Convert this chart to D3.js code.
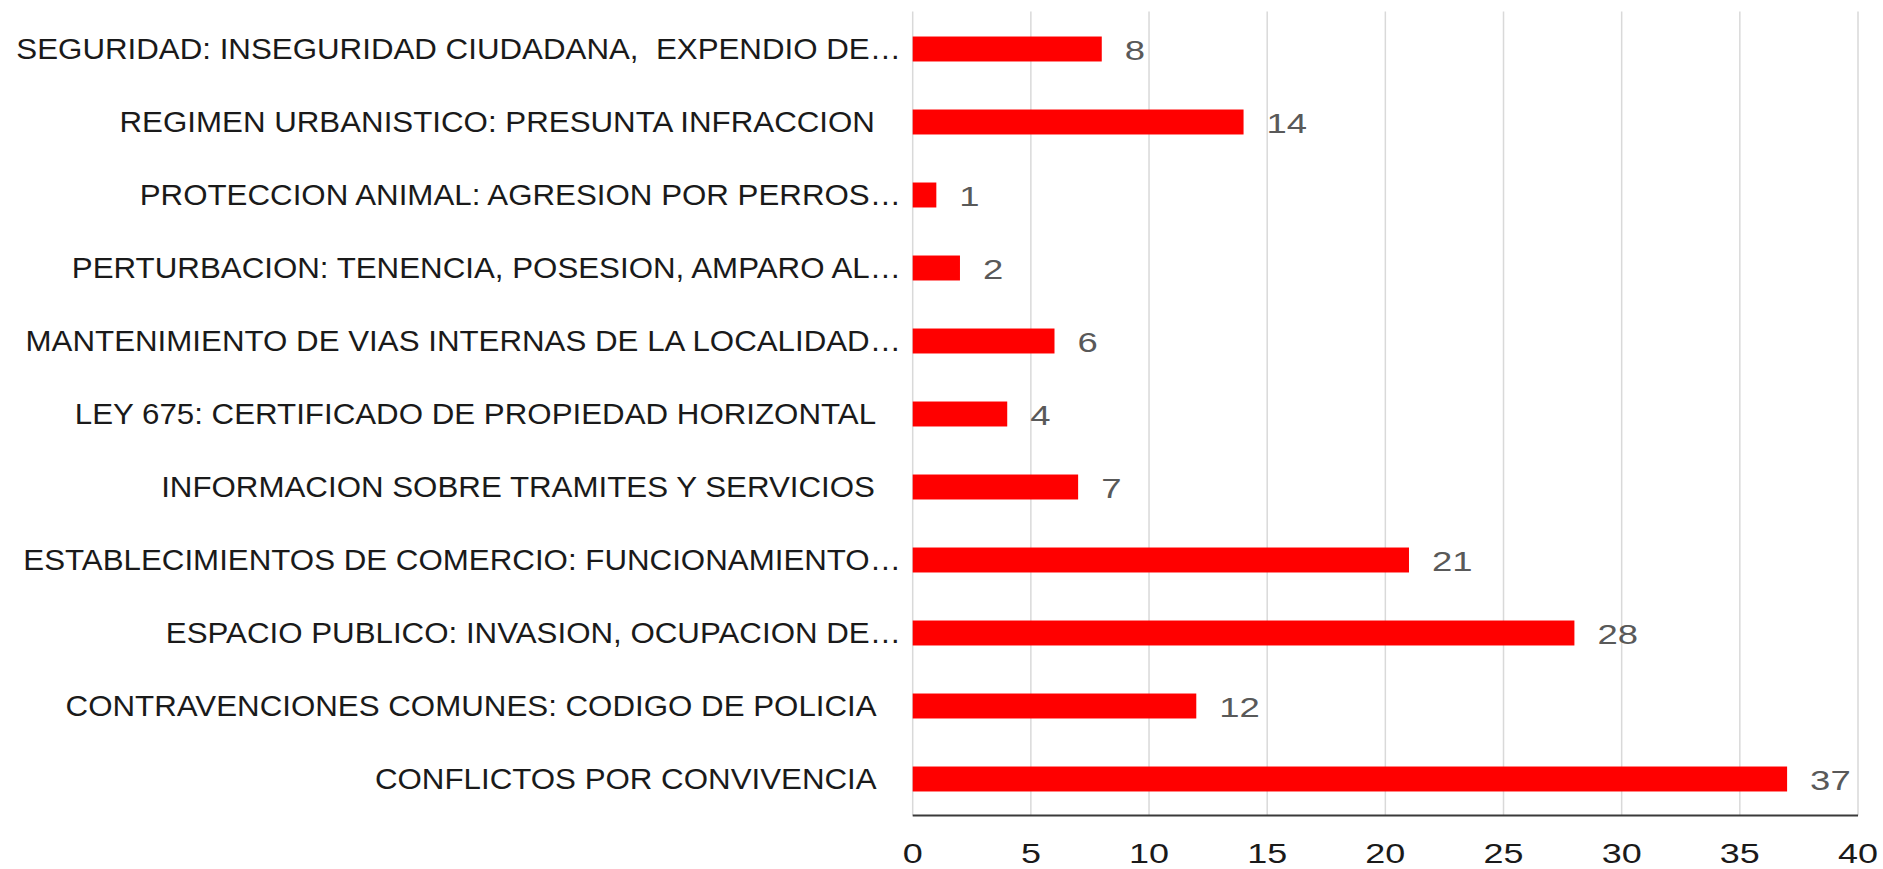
<!DOCTYPE html>
<html>
<head>
<meta charset="utf-8">
<script src="https://cdn.jsdelivr.net/npm/d3@7"></script>
<style>
  html, body { margin: 0; padding: 0; background: #fff; }
  svg { display: block; }
  text { white-space: pre; }
</style>
</head>
<body>
<script>
const categories = [
  "SEGURIDAD: INSEGURIDAD CIUDADANA,  EXPENDIO DE\u2026",
  "REGIMEN URBANISTICO: PRESUNTA INFRACCION   ",
  "PROTECCION ANIMAL: AGRESION POR PERROS\u2026",
  "PERTURBACION: TENENCIA, POSESION, AMPARO AL\u2026",
  "MANTENIMIENTO DE VIAS INTERNAS DE LA LOCALIDAD\u2026",
  "LEY 675: CERTIFICADO DE PROPIEDAD HORIZONTAL   ",
  "INFORMACION SOBRE TRAMITES Y SERVICIOS   ",
  "ESTABLECIMIENTOS DE COMERCIO: FUNCIONAMIENTO\u2026",
  "ESPACIO PUBLICO: INVASION, OCUPACION DE\u2026",
  "CONTRAVENCIONES COMUNES: CODIGO DE POLICIA   ",
  "CONFLICTOS POR CONVIVENCIA   "
];
const values = [8, 14, 1, 2, 6, 4, 7, 21, 28, 12, 37];
const tickValues = [0, 5, 10, 15, 20, 25, 30, 35, 40];

const W = 1883, H = 869;
const plot = { left: 912.7, right: 1858, top: 12.5, bottom: 815.5 };
const FONT = "'Liberation Sans', Arial, sans-serif";
const numScale = 1.28;

const svg = d3.select("body").append("svg")
  .attr("width", W).attr("height", H);

const x = d3.scaleLinear().domain([0, 40]).range([plot.left, plot.right]);
const y = d3.scaleBand().domain(categories)
  .range([plot.top, plot.bottom])
  .paddingInner(0.658).paddingOuter(0.329);

// gridlines
svg.append("g").selectAll("line").data(tickValues).join("line")
  .attr("x1", d => x(d)).attr("x2", d => x(d))
  .attr("y1", plot.top - 1).attr("y2", plot.bottom)
  .attr("stroke", "#d9d9d9").attr("stroke-width", 1.5);

// bars
svg.append("g").selectAll("rect").data(values).join("rect")
  .attr("x", x(0))
  .attr("y", (d, i) => y(categories[i]))
  .attr("width", d => x(d) - x(0))
  .attr("height", y.bandwidth())
  .attr("fill", "#ff0000");

// bottom axis line
svg.append("line")
  .attr("x1", x(0)).attr("x2", x(40))
  .attr("y1", plot.bottom).attr("y2", plot.bottom)
  .attr("stroke", "#3a3a3a").attr("stroke-width", 2);

// value labels
svg.append("g").selectAll("text").data(values).join("text")
  .attr("transform", (d, i) => `translate(${x(d) + 23},${y(categories[i]) + y.bandwidth() / 2 + 10.8}) scale(${numScale},1)`)
  .attr("font-family", FONT).attr("font-size", 28.5)
  .attr("fill", "#595959")
  .text(d => d);

// tick labels
svg.append("g").selectAll("text").data(tickValues).join("text")
  .attr("transform", d => `translate(${x(d)},862.5) scale(${numScale * 1.04},1)`)
  .attr("text-anchor", "middle")
  .attr("font-family", FONT).attr("font-size", 27)
  .attr("fill", "#1a1a1a")
  .text(d => d);

// category labels
const labelRight = 901;
const catG = svg.append("g");
const cats = catG.selectAll("text").data(categories).join("text")
  .attr("font-family", FONT).attr("font-size", 29)
  .attr("fill", "#1a1a1a")
  .attr("text-anchor", "end")
  .text(d => d);
const w0 = cats.nodes()[0].getComputedTextLength();
const catScale = (labelRight - 16) / w0;
cats.attr("transform", d => `translate(${labelRight},${y(d) + y.bandwidth() / 2 + 9.6}) scale(${catScale},1)`);
</script>
</body>
</html>
